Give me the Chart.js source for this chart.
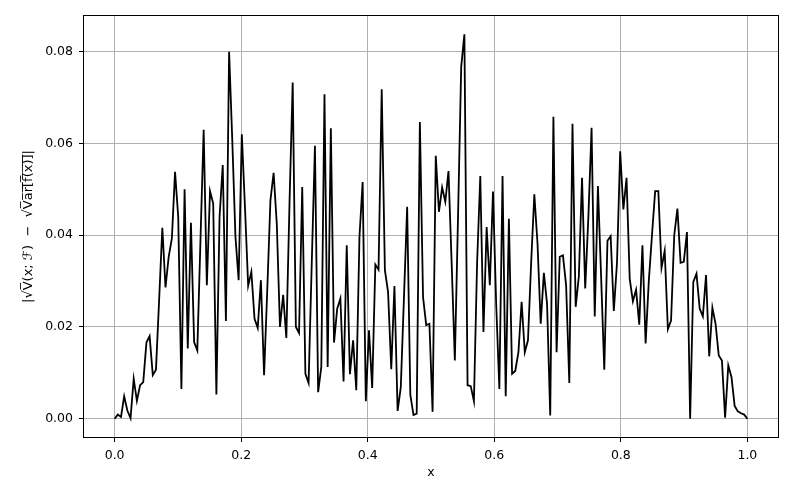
<!DOCTYPE html>
<html lang="en">
<head>
<meta charset="UTF-8">
<title>Deviation of the estimated standard deviation</title>
<script src="https://cdn.jsdelivr.net/npm/chart.js@4"></script>
<style>
  html, body { margin: 0; padding: 0; background: #fff; }
  #wrap { width: 793px; height: 496px; }
</style>
</head>
<body>
<div id="wrap"><canvas id="chart" width="793" height="496"></canvas></div>
<script>
// |sqrt(V(x;F)) - sqrt(Var[f(x)])| sampled on 200 points between 0 and 1
const deviation = [
  0.0000, 0.0009, 0.0004, 0.0049, 0.0018, 0.0001, 0.0087, 0.0039, 0.0073, 0.0080,
  0.0166, 0.0180, 0.0095, 0.0107, 0.0260, 0.0416, 0.0286, 0.0353, 0.0393, 0.0538,
  0.0440, 0.0065, 0.0500, 0.0153, 0.0427, 0.0167, 0.0149, 0.0390, 0.0630, 0.0291,
  0.0496, 0.0469, 0.0053, 0.0440, 0.0553, 0.0213, 0.0800, 0.0607, 0.0396, 0.0302,
  0.0620, 0.0460, 0.0290, 0.0320, 0.0218, 0.0198, 0.0302, 0.0095, 0.0280, 0.0476,
  0.0536, 0.0425, 0.0200, 0.0270, 0.0176, 0.0470, 0.0733, 0.0200, 0.0187, 0.0505,
  0.0098, 0.0078, 0.0340, 0.0595, 0.0058, 0.0113, 0.0707, 0.0113, 0.0633, 0.0166,
  0.0240, 0.0262, 0.0081, 0.0378, 0.0097, 0.0171, 0.0062, 0.0396, 0.0516, 0.0038,
  0.0193, 0.0067, 0.0336, 0.0325, 0.0718, 0.0324, 0.0276, 0.0108, 0.0289, 0.0017,
  0.0069, 0.0265, 0.0462, 0.0052, 0.0008, 0.0011, 0.0647, 0.0265, 0.0204, 0.0207,
  0.0015, 0.0573, 0.0451, 0.0504, 0.0473, 0.0540, 0.0338, 0.0127, 0.0440, 0.0767,
  0.0838, 0.0073, 0.0071, 0.0038, 0.0340, 0.0529, 0.0189, 0.0418, 0.0291, 0.0495,
  0.0250, 0.0065, 0.0529, 0.0049, 0.0436, 0.0098, 0.0104, 0.0145, 0.0255, 0.0145,
  0.0171, 0.0340, 0.0489, 0.0382, 0.0207, 0.0318, 0.0251, 0.0007, 0.0658, 0.0145,
  0.0353, 0.0356, 0.0290, 0.0078, 0.0643, 0.0244, 0.0310, 0.0525, 0.0284, 0.0440,
  0.0634, 0.0223, 0.0507, 0.0310, 0.0107, 0.0388, 0.0398, 0.0235, 0.0340, 0.0583,
  0.0456, 0.0525, 0.0305, 0.0256, 0.0281, 0.0205, 0.0378, 0.0164, 0.0300, 0.0400,
  0.0496, 0.0496, 0.0329, 0.0366, 0.0195, 0.0214, 0.0400, 0.0458, 0.0340, 0.0342,
  0.0407, 0.0000, 0.0298, 0.0316, 0.0240, 0.0223, 0.0313, 0.0136, 0.0242, 0.0207,
  0.0138, 0.0127, 0.0002, 0.0116, 0.0091, 0.0028, 0.0016, 0.0012, 0.0009, 0.0000
];
const xTicks = [0.0, 0.2, 0.4, 0.6, 0.8, 1.0];
const yTicks = [0.00, 0.02, 0.04, 0.06, 0.08];

// evenly spaced x grid, like np.linspace(0, 1, 200)
const xs = deviation.map((_, i) => i / (deviation.length - 1));
const points = xs.map((x, i) => ({ x: x, y: deviation[i] }));

Chart.defaults.font.family = "'DejaVu Sans', sans-serif";
Chart.defaults.font.size = 12.5;
Chart.defaults.color = '#000';

// matplotlib style box around the axes
const frame = {
    id: 'frame',
    afterDraw(chart) {
        const { ctx, chartArea: a } = chart;
        ctx.save();
        ctx.strokeStyle = '#000';
        ctx.lineWidth = 1;
        ctx.strokeRect(Math.round(a.left) + 0.5, Math.round(a.top) + 0.5,
            Math.round(a.right - a.left) - 1, Math.round(a.bottom - a.top) - 1);
        ctx.restore();
    }
};

new Chart(document.getElementById('chart'), {
    type: 'line',
    data: {
        datasets: [{
            data: points,
            borderColor: '#000',
            borderWidth: 1.8,
            pointRadius: 0,
            tension: 0,
            fill: false
        }]
    },
    options: {
        responsive: false,
        animation: false,
        devicePixelRatio: 1,
        layout: { padding: { top: 15, right: 14, left: 0, bottom: 0 } },
        plugins: { legend: { display: false }, tooltip: { enabled: false } },
        scales: {
            x: {
                type: 'linear',
                min: -0.05,
                max: 1.05,
                afterBuildTicks: s => { s.ticks = xTicks.map(v => ({ value: v })); },
                afterFit: s => { s.height = 58; },
                ticks: { padding: 6, maxRotation: 0, callback: v => v.toFixed(1) },
                grid: { color: '#b0b0b0', lineWidth: 1, tickColor: '#000', tickLength: 4 },
                border: { display: false },
                title: { display: true, text: 'x', padding: { top: 0, bottom: 16 } }
            },
            y: {
                type: 'linear',
                min: -0.0042,
                max: 0.088,
                afterBuildTicks: s => { s.ticks = yTicks.map(v => ({ value: v })); },
                afterFit: s => { s.width = 83; },
                ticks: { padding: 6, callback: v => v.toFixed(2) },
                grid: { color: '#b0b0b0', lineWidth: 1, tickColor: '#000', tickLength: 4 },
                border: { display: false },
                title: {
                    display: true,
                    text: '|\u221AV\u0305(x; \u2131)  \u2212  \u221AV\u0305a\u0305r\u0305[\u0305f\u0305(\u0305x\u0305)\u0305]\u0305|',
                    font: { size: 13 },
                    padding: { top: 21, bottom: 0 }
                }
            }
        }
    },
    plugins: [frame]
});
</script>
</body>
</html>
